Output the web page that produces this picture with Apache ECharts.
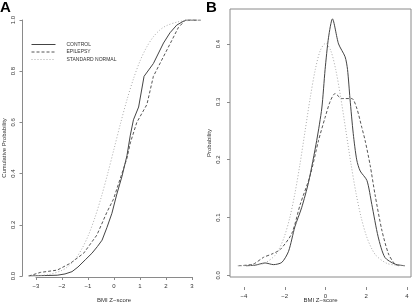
<!DOCTYPE html>
<html><head><meta charset="utf-8">
<script src="https://cdn.jsdelivr.net/npm/echarts@6/dist/echarts.min.js"></script>
<style>html,body{margin:0;padding:0;background:#fff}#c{width:412px;height:308px}</style>
</head><body><div id="c"></div>
<script>
// Panel A: empirical cumulative distributions [BMI z-score, cumulative probability]
const cdfControl = [[-3.3,0],[-2.2,0.003],[-1.9,0.008],[-1.63,0.017],[-1.4,0.035],[-1.12,0.063],[-0.86,0.089],[-0.65,0.115],[-0.47,0.14],[-0.28,0.19],[-0.09,0.245],[0.10,0.32],[0.30,0.39],[0.49,0.47],[0.62,0.55],[0.74,0.61],[0.94,0.66],[1.15,0.78],[1.51,0.83],[1.90,0.91],[2.15,0.95],[2.41,0.98],[2.75,1.0],[3.2,1.0]];
const cdfEpilepsy = [[-3.3,0],[-2.85,0.014],[-2.2,0.023],[-1.69,0.05],[-1.18,0.089],[-0.67,0.16],[-0.28,0.25],[-0.03,0.30],[0.23,0.38],[0.49,0.46],[0.62,0.52],[0.87,0.60],[1.26,0.67],[1.51,0.78],[1.90,0.857],[2.22,0.92],[2.47,0.97],[2.75,1.0],[3.4,1.0]];
const cdfNormal = [[-3.3,0.0005],[-3,0.0013],[-2.5,0.0062],[-2,0.0228],[-1.75,0.040],[-1.5,0.0668],[-1.25,0.106],[-1,0.1587],[-0.75,0.227],[-0.5,0.3085],[-0.25,0.401],[0,0.5],[0.25,0.599],[0.5,0.6915],[0.75,0.773],[1,0.8413],[1.25,0.894],[1.5,0.9332],[1.75,0.960],[2,0.9772],[2.5,0.9938],[3,0.9987],[3.3,0.9995]];
// Panel B: density estimates [BMI z-score, probability]
const denControl = [[-3.9,0],[-3.45,0.001],[-2.96,0.005],[-2.55,0.002],[-2.14,0.006],[-1.81,0.026],[-1.5,0.07],[-1.17,0.104],[-0.83,0.15],[-0.43,0.225],[-0.18,0.283],[-0.02,0.352],[0.15,0.41],[0.34,0.443],[0.64,0.398],[0.96,0.375],[1.08,0.352],[1.2,0.30],[1.36,0.237],[1.53,0.19],[1.70,0.17],[2.03,0.153],[2.27,0.11],[2.58,0.052],[2.91,0.015],[3.4,0.003],[3.89,0]];
const denEpilepsy = [[-4.26,0],[-3.54,0.003],[-3.04,0.015],[-2.63,0.021],[-2.22,0.029],[-1.65,0.058],[-1.24,0.11],[-0.75,0.162],[-0.34,0.225],[-0.02,0.266],[0.23,0.295],[0.47,0.309],[0.80,0.30],[1.29,0.30],[1.53,0.283],[1.78,0.248],[1.94,0.225],[2.19,0.18],[2.43,0.127],[2.76,0.064],[3.09,0.021],[3.4,0.003],[3.6,0]];
const denNormal = [[-4.3,0],[-4,0.0001],[-3.5,0.0009],[-3,0.0044],[-2.5,0.0175],[-2.25,0.0317],[-2,0.054],[-1.75,0.0863],[-1.5,0.1295],[-1.25,0.1826],[-1,0.242],[-0.75,0.3011],[-0.5,0.3521],[-0.25,0.3867],[0,0.3989],[0.25,0.3867],[0.5,0.3521],[0.75,0.3011],[1,0.242],[1.25,0.1826],[1.5,0.1295],[1.75,0.0863],[2,0.054],[2.25,0.0317],[2.5,0.0175],[3,0.0044],[3.5,0.0009],[3.95,0.0001]];
const seriesNames = ['CONTROL','EPILEPSY','STANDARD NORMAL'];
const panelLabels = ['A','B'];
const xName = 'BMI Z\u2212score';
const yNameA = 'Cumulative Probability';
const yNameB = 'Probability';

const FONT = "'Liberation Sans', Arial, sans-serif";
const AX = '#8a8a8a', TXT = '#333';
const minus = v => String(v).replace('-', '\u2212');
const hidden = {show:false};
const styles = [
  {color:'#444', width:1, type:'solid'},
  {color:'#555', width:1, type:[3,2]},
  {color:'#aaa', width:1, type:[1,2]}
];
function mk(name, data, xi, yi, st, smooth){
  return {name, type:'line', data, xAxisIndex:xi, yAxisIndex:yi, showSymbol:false, symbol:'none',
    smooth: smooth, lineStyle:Object.assign({}, st), itemStyle:{color:st.color}, silent:true, animation:false, z:3};
}
const tickStyle = {show:true, length:3, inside:false, lineStyle:{color:AX, width:1}};
const labStyle = {fontSize:6, color:TXT, fontFamily:FONT};
const nameStyle = {fontSize:6, color:TXT, fontFamily:FONT};

const option = {
  animation:false,
  backgroundColor:'#fff',
  title:[
    {text:panelLabels[0], left:0, top:0, padding:0, textStyle:{fontSize:15, fontWeight:'bold', color:'#000', fontFamily:FONT}},
    {text:panelLabels[1], left:206, top:0, padding:0, textStyle:{fontSize:15, fontWeight:'bold', color:'#000', fontFamily:FONT}}
  ],
  legend:{
    data:seriesNames, orient:'vertical', left:31, top:42, itemWidth:24, itemHeight:6, itemGap:2.5,
    padding:0, selectedMode:false,
    itemStyle:{opacity:0, borderWidth:0}, lineStyle:{width:1},
    textStyle:{fontSize:5, color:TXT, fontFamily:FONT, padding:[0,0,0,6]}
  },
  grid:[
    {left:22, top:20, width:184, height:256},
    {left:36, top:20, width:156, height:267},
    {left:230, top:9, width:181, height:278, show:true, borderColor:AX, borderWidth:1, backgroundColor:'transparent'},
    {left:244, top:9, width:163, height:278},
    {left:230, top:44, width:181, height:231.3}
  ],
  xAxis:[
    {gridIndex:0, type:'value', min:-3.54, max:3.54, show:false},
    {gridIndex:1, type:'value', min:-3, max:3, interval:1,
      axisLine:{show:true, onZero:false, lineStyle:{color:AX, width:1}}, axisTick:tickStyle,
      axisLabel:Object.assign({margin:6, formatter:minus}, labStyle), splitLine:hidden,
      name:xName, nameLocation:'middle', nameGap:20, nameTextStyle:nameStyle},
    {gridIndex:2, type:'value', min:-4.68, max:4.19, axisLine:{show:false, onZero:false}, axisTick:hidden, axisLabel:hidden, splitLine:hidden,
      name:xName, nameLocation:'middle', nameGap:20, nameTextStyle:nameStyle},
    {gridIndex:3, type:'value', min:-4, max:4, interval:2, axisLine:{show:false, onZero:false}, axisTick:tickStyle,
      axisLabel:Object.assign({margin:6, formatter:minus}, labStyle), splitLine:hidden},
    {gridIndex:4, type:'value', min:0, max:1, show:false}
  ],
  yAxis:[
    {gridIndex:0, type:'value', min:0, max:1, interval:0.2,
      axisLine:{show:true, onZero:false, lineStyle:{color:AX, width:1}}, axisTick:tickStyle,
      axisLabel:Object.assign({margin:6.5, rotate:90, formatter:v=>v.toFixed(1)}, labStyle), splitLine:hidden,
      name:yNameA, nameLocation:'middle', nameGap:15.5, nameTextStyle:nameStyle},
    {gridIndex:1, type:'value', min:0, max:1, show:false},
    {gridIndex:2, type:'value', min:-0.0202, max:0.4607, axisLine:{show:false, onZero:false}, axisTick:hidden, axisLabel:hidden, splitLine:hidden,
      name:yNameB, nameLocation:'middle', nameGap:17.5, nameTextStyle:nameStyle},
    {gridIndex:3, type:'value', min:0, max:1, show:false},
    {gridIndex:4, type:'value', min:0, max:0.4, interval:0.1, axisLine:{show:false, onZero:false}, axisTick:tickStyle,
      axisLabel:Object.assign({margin:8.5, rotate:90, formatter:v=>v.toFixed(1)}, labStyle), splitLine:hidden}
  ],
  series:[
    mk(seriesNames[0], cdfControl, 0, 0, styles[0], false),
    mk(seriesNames[1], cdfEpilepsy, 0, 0, styles[1], false),
    mk(seriesNames[2], cdfNormal, 0, 0, styles[2], 0.3),
    mk(seriesNames[0], denControl, 2, 2, styles[0], 0.25),
    mk(seriesNames[1], denEpilepsy, 2, 2, styles[1], 0.25),
    mk(seriesNames[2], denNormal, 2, 2, styles[2], 0.3)
  ]
};
const chart = echarts.init(document.getElementById('c'), null, {renderer:'canvas'});
chart.setOption(option);
</script>
</body></html>
